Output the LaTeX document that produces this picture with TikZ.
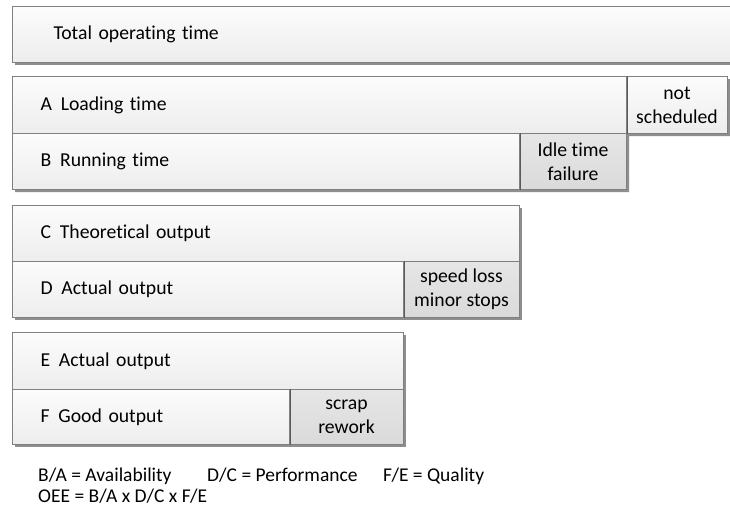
\documentclass[tikz,border=0pt]{standalone}
\usepackage{fontspec}
\setmainfont{Carlito}[Ligatures=CommonOff]
\definecolor{boxline}{HTML}{808080}
\definecolor{divline}{HTML}{5A5A5A}
\definecolor{fillTop}{HTML}{FCFCFC}
\definecolor{fillBot}{HTML}{EDEDED}
\definecolor{sideTop}{HTML}{E6E6E6}
\definecolor{sideBot}{HTML}{DADADA}
\definecolor{shadowgray}{HTML}{8E8E8E}
\tikzset{
  boxfont/.style={font=\fontsize{19.7}{24}\selectfont},
  mainbox/.style={draw=boxline, line width=1pt, top color=fillTop, bottom color=fillBot,
    anchor=north west, inner xsep=28pt, inner ysep=0pt, align=left, boxfont},
  lightside/.style={draw=boxline, line width=1pt, top color=fillTop, bottom color=fillBot,
    anchor=north west, inner sep=0pt, align=center, boxfont},
  darkside/.style={draw=boxline, line width=1pt, top color=sideTop, bottom color=sideBot,
    anchor=north west, inner sep=0pt, align=center, boxfont},
  shadowfill/.style={fill=shadowgray},
  divider/.style={draw=divline, line width=1pt},
  formula/.style={anchor=base west, inner sep=0pt, font=\fontsize{19.5}{21}\selectfont}
}
\begin{document}
\begin{tikzpicture}[x=1pt,y=-1pt]
\useasboundingbox (0,0) rectangle (730,511);
\clip (0,0) rectangle (730,511);
\fill[white] (0,0) rectangle (730,511);
% shadows
\fill[shadowfill] (15,9) rectangle (745,65);
\fill[shadowfill] (15,79) -- (730,79) -- (730,136) -- (629,136) -- (629,192) -- (15,192) -- cycle;
\fill[shadowfill] (15,208) rectangle (522,320);
\fill[shadowfill] (15,335) rectangle (406,447);
% total
\node[mainbox, inner xsep=41pt, minimum width=740pt, text width=658pt, minimum height=56pt] (T) at (12,6) {Total operating time};
% A / B
\node[mainbox, minimum width=614pt, text width=558pt, minimum height=57pt] (A) at (12,76) {A\hspace{0.45em}Loading time};
\node[lightside, minimum width=101pt, minimum height=57pt] (NS) at (626,76) {not\\scheduled};
\node[mainbox, minimum width=507pt, text width=451pt, minimum height=56pt] (B) at (12,133) {B\hspace{0.45em}Running time};
\node[darkside, minimum width=107pt, minimum height=56pt] (IT) at (519,133) {Idle time\\failure};
% C / D
\node[mainbox, minimum width=507pt, text width=451pt, minimum height=56pt] (C) at (12,205) {C\hspace{0.45em}Theoretical output};
\node[mainbox, minimum width=391pt, text width=335pt, minimum height=56pt] (D) at (12,261) {D\hspace{0.45em}Actual output};
\node[darkside, minimum width=116pt, minimum height=56pt] (SL) at (403,261) {speed loss\\minor stops};
% E / F
\node[mainbox, minimum width=391pt, text width=335pt, minimum height=57pt] (E) at (12,332) {E\hspace{0.45em}Actual output};
\node[mainbox, minimum width=277pt, text width=221pt, minimum height=55pt] (F) at (12,389) {F\hspace{0.45em}Good output};
\node[darkside, minimum width=114pt, minimum height=55pt] (SR) at (289,389) {scrap\\rework};
% dividers
\draw[divider] (A.north east) -- (A.south east);
\draw[divider] (B.north east) -- (B.south east);
\draw[divider] (D.north east) -- (D.south east);
\draw[divider] (F.north east) -- (F.south east);
% formulas
\node[formula] (f1) at (38,481) {B/A = Availability};
\node[formula] (f2) at (207,481) {D/C = Performance};
\node[formula] (f3) at (383,481) {F/E = Quality};
\node[formula] (f4) at (38,502) {OEE = B/A x D/C x F/E};
\end{tikzpicture}
\end{document}
